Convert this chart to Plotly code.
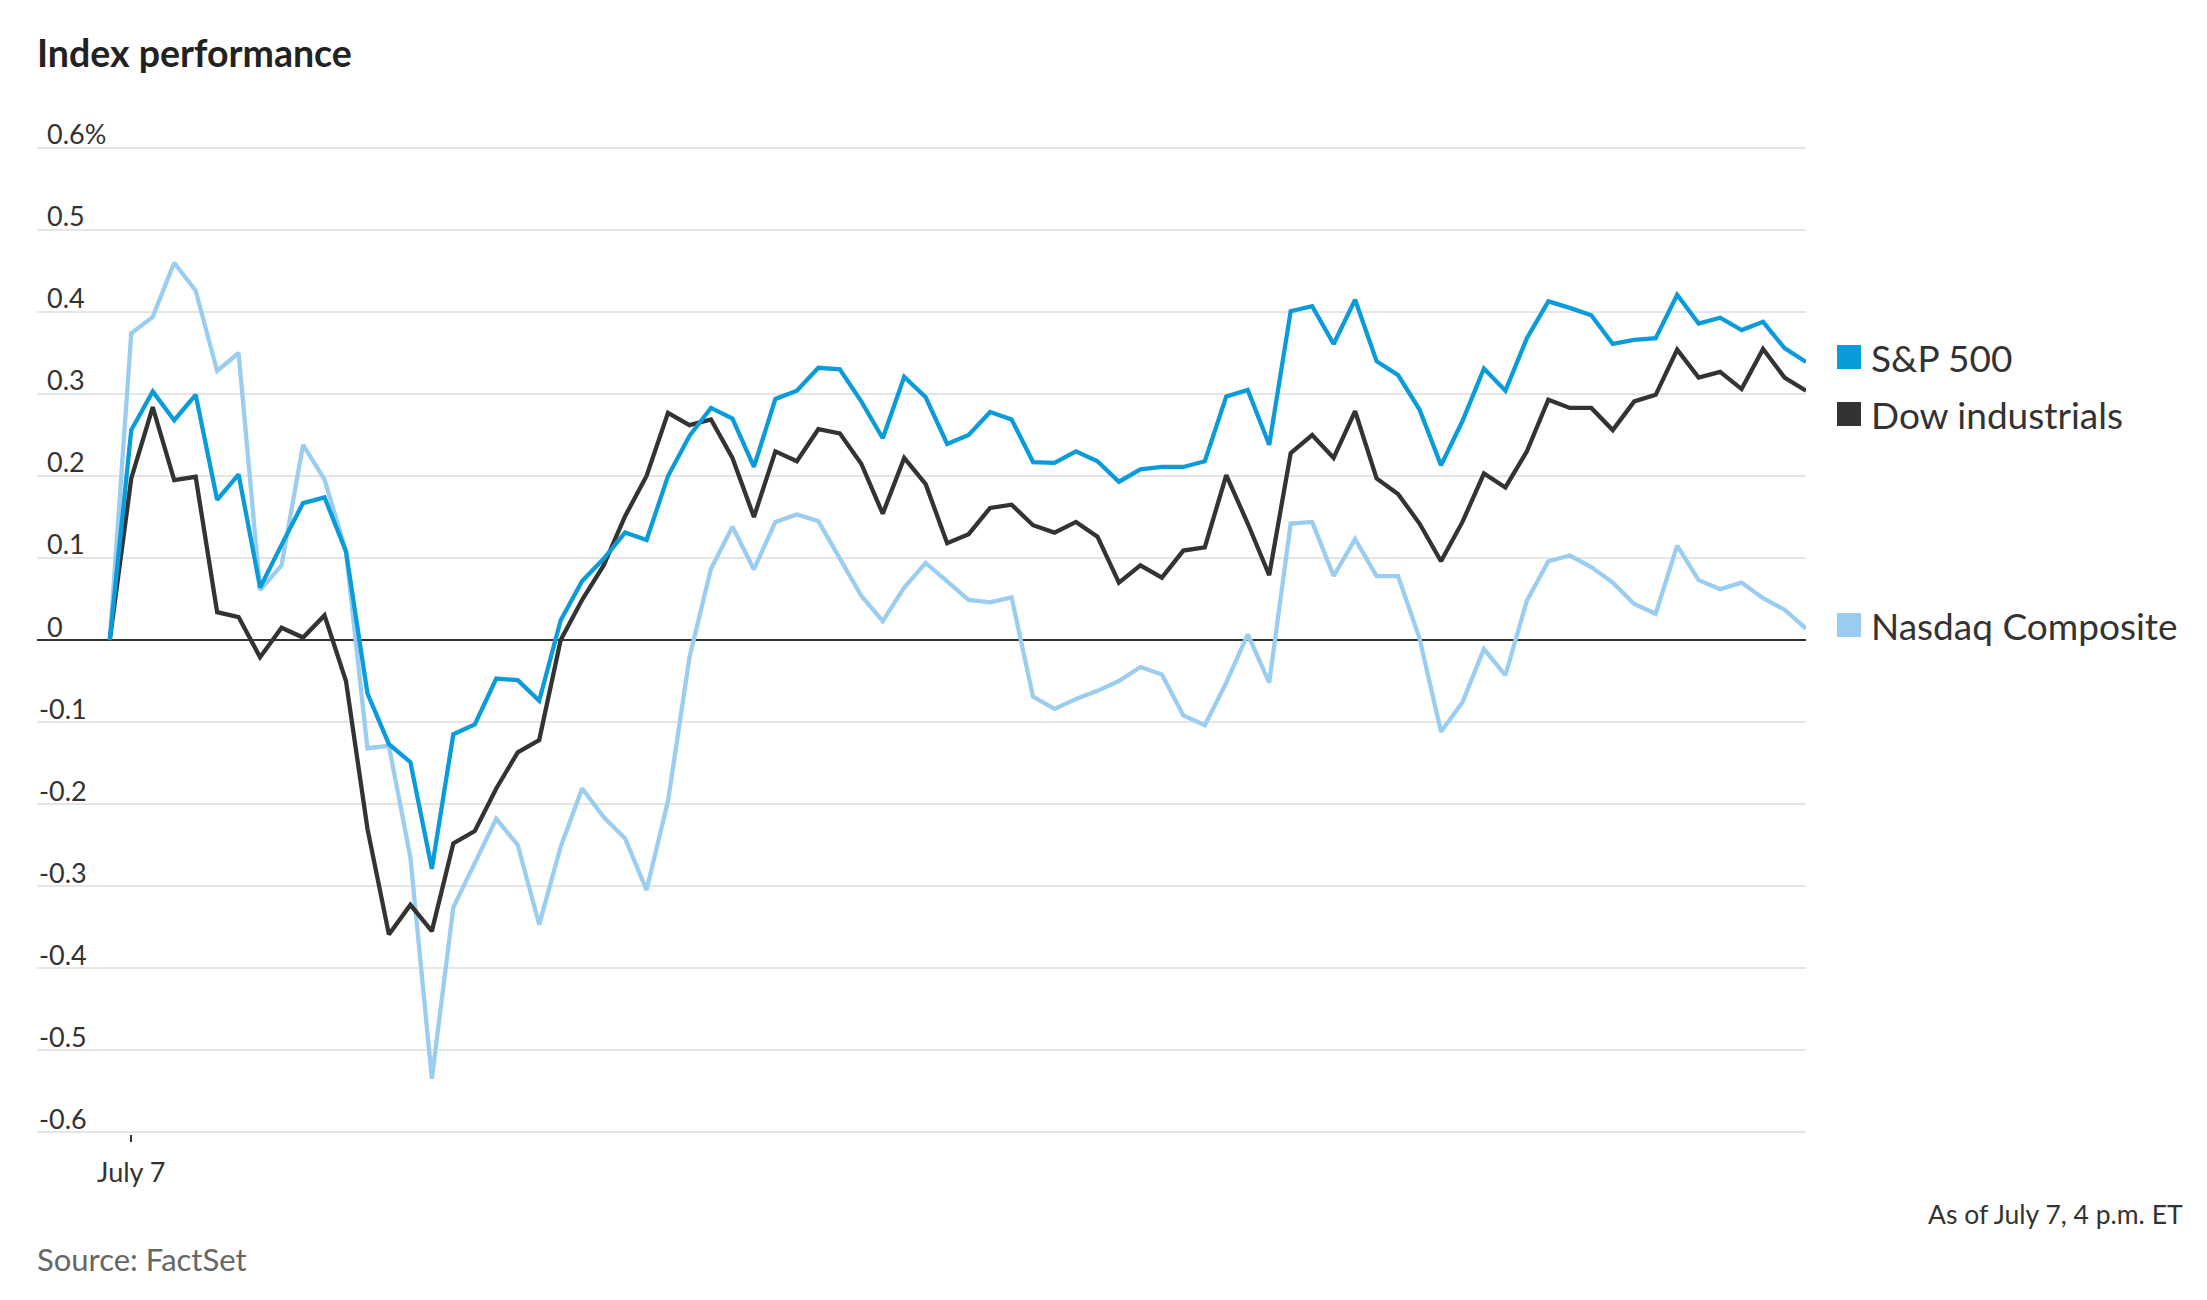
import plotly.graph_objects as go

# ---------------- data ----------------
series_names = ["S&P 500", "Dow industrials", "Nasdaq Composite"]

sp500 = [0, 0.256, 0.303, 0.268, 0.299, 0.171, 0.202, 0.064, 0.116, 0.167, 0.174, 0.108, -0.065, -0.127, -0.149, -0.279,
         -0.115, -0.103, -0.047, -0.049, -0.074, 0.024, 0.072, 0.099, 0.131, 0.122, 0.200, 0.249, 0.283, 0.270, 0.211, 0.294,
         0.304, 0.332, 0.330, 0.291, 0.246, 0.321, 0.296, 0.239, 0.250, 0.278, 0.269, 0.217, 0.216, 0.230, 0.218, 0.193,
         0.208, 0.211, 0.211, 0.218, 0.297, 0.305, 0.238, 0.401, 0.407, 0.361, 0.415, 0.340, 0.323, 0.281, 0.213, 0.267,
         0.331, 0.304, 0.368, 0.413, 0.405, 0.396, 0.361, 0.366, 0.368, 0.421, 0.386, 0.393, 0.378, 0.388, 0.356, 0.339]

dow = [0, 0.197, 0.284, 0.195, 0.199, 0.034, 0.028, -0.021, 0.015, 0.003, 0.030, -0.050, -0.230, -0.359, -0.323, -0.355,
       -0.248, -0.233, -0.181, -0.137, -0.122, 0.000, 0.049, 0.091, 0.151, 0.200, 0.277, 0.262, 0.269, 0.222, 0.150, 0.230,
       0.218, 0.257, 0.252, 0.215, 0.154, 0.222, 0.190, 0.118, 0.129, 0.161, 0.165, 0.140, 0.131, 0.144, 0.126, 0.070,
       0.091, 0.076, 0.109, 0.113, 0.201, 0.142, 0.079, 0.228, 0.250, 0.222, 0.279, 0.197, 0.178, 0.142, 0.096, 0.144,
       0.203, 0.186, 0.230, 0.293, 0.283, 0.283, 0.256, 0.291, 0.299, 0.354, 0.320, 0.327, 0.306, 0.355, 0.320, 0.304]

nasdaq = [0, 0.374, 0.394, 0.460, 0.426, 0.328, 0.350, 0.061, 0.091, 0.238, 0.196, 0.108, -0.132, -0.129, -0.265, -0.535,
          -0.326, -0.273, -0.218, -0.250, -0.347, -0.252, -0.181, -0.216, -0.242, -0.305, -0.196, -0.021, 0.087, 0.138, 0.086, 0.144,
          0.153, 0.145, 0.099, 0.054, 0.023, 0.064, 0.094, 0.072, 0.049, 0.046, 0.052, -0.069, -0.084, -0.072, -0.062, -0.050,
          -0.033, -0.042, -0.092, -0.104, -0.052, 0.007, -0.052, 0.142, 0.144, 0.078, 0.123, 0.078, 0.078, 0.002, -0.112, -0.076,
          -0.011, -0.043, 0.048, 0.096, 0.103, 0.089, 0.070, 0.044, 0.032, 0.115, 0.073, 0.062, 0.070, 0.051, 0.037, 0.014]

steps = list(range(len(sp500)))          # 5-minute intraday intervals

y_tick_values = [0.6, 0.5, 0.4, 0.3, 0.2, 0.1, 0, -0.1, -0.2, -0.3, -0.4, -0.5, -0.6]
y_tick_labels = ["0.6%", "0.5", "0.4", "0.3", "0.2", "0.1", "0", "-0.1", "-0.2", "-0.3", "-0.4", "-0.5", "-0.6"]
x_tick_values = [1]
x_tick_labels = ["July 7"]

# ---------------- style ----------------
W, H = 2207, 1300
ML, MR, MT, MB = 37, 401, 146, 166
PW, PH = W - ML - MR, H - MT - MB

C_SP = "#0a9bdb"
C_DOW = "#333333"
C_NDQ = "#9acdf0"
TXT = "#333333"
FONT = "Lato, 'Noto Sans', sans-serif"


def px_x(x):
    return (x - ML) / PW


def px_y(y):
    return (H - MB - y) / PH


fig = go.Figure()
for name, vals, col in [(series_names[2], nasdaq, C_NDQ),
                        (series_names[1], dow, C_DOW),
                        (series_names[0], sp500, C_SP)]:
    fig.add_trace(go.Scatter(x=steps, y=vals, mode="lines", name=name,
                             line=dict(color=col, width=4.3), hoverinfo="skip"))

annotations = []
shapes = []

# y tick labels above gridlines
for v, lab in zip(y_tick_values, y_tick_labels):
    annotations.append(dict(
        x=px_x(37 if v < 0 else 45), xref="paper", xanchor="left",
        y=v, yref="y", yanchor="middle", yshift=14,
        text=lab, showarrow=False, font=dict(family=FONT, size=27, color=TXT)))

# end-of-line legend labels
legend_items = [(series_names[0], C_SP, 357), (series_names[1], C_DOW, 414), (series_names[2], C_NDQ, 625)]
for name, col, ypix in legend_items:
    shapes.append(dict(type="rect", xref="paper", yref="paper",
                       x0=px_x(1837), x1=px_x(1861), y0=px_y(ypix + 12), y1=px_y(ypix - 12),
                       fillcolor=col, line=dict(width=0)))
    annotations.append(dict(x=px_x(1869), xref="paper", xanchor="left",
                            y=px_y(ypix), yref="paper", yanchor="middle",
                            text=name, showarrow=False,
                            font=dict(family=FONT, size=37, color=TXT)))

# title, note, source
annotations.append(dict(x=px_x(35), xref="paper", xanchor="left", y=px_y(53), yref="paper", yanchor="middle",
                        text="Index performance", showarrow=False,
                        font=dict(family=FONT, size=37.5, color="#222222", weight=700)))
annotations.append(dict(x=px_x(2185), xref="paper", xanchor="right", y=px_y(1214), yref="paper", yanchor="middle",
                        text="As of July 7, 4 p.m. ET", showarrow=False,
                        font=dict(family=FONT, size=26.5, color=TXT)))
annotations.append(dict(x=px_x(35), xref="paper", xanchor="left", y=px_y(1259), yref="paper", yanchor="middle",
                        text="Source: FactSet", showarrow=False,
                        font=dict(family=FONT, size=31, color="#666666")))

fig.update_layout(
    width=W, height=H,
    margin=dict(l=ML, r=MR, t=MT, b=MB, pad=0),
    paper_bgcolor="white", plot_bgcolor="white",
    showlegend=False,
    font=dict(family=FONT, color=TXT),
    annotations=annotations, shapes=shapes,
    xaxis=dict(range=[-3.39, 79.0], showgrid=False, zeroline=False, showline=False,
               tickmode="array", tickvals=x_tick_values, ticktext=x_tick_labels,
               ticks="outside", ticklen=7, tickwidth=2, tickcolor=TXT, ticklabelstandoff=8,
               tickfont=dict(family=FONT, size=27, color=TXT), fixedrange=True),
    yaxis=dict(range=[-0.6024, 0.6024], tickmode="array", tickvals=y_tick_values,
               showticklabels=False, showgrid=True, gridcolor="#e5e5e5", gridwidth=2,
               zeroline=True, zerolinecolor="#333333", zerolinewidth=2,
               showline=False, ticks="", fixedrange=True),
)

fig.write_html("out.html", config={"displayModeBar": False},
               post_script="document.body.style.margin='0';document.body.style.overflow='hidden';")
